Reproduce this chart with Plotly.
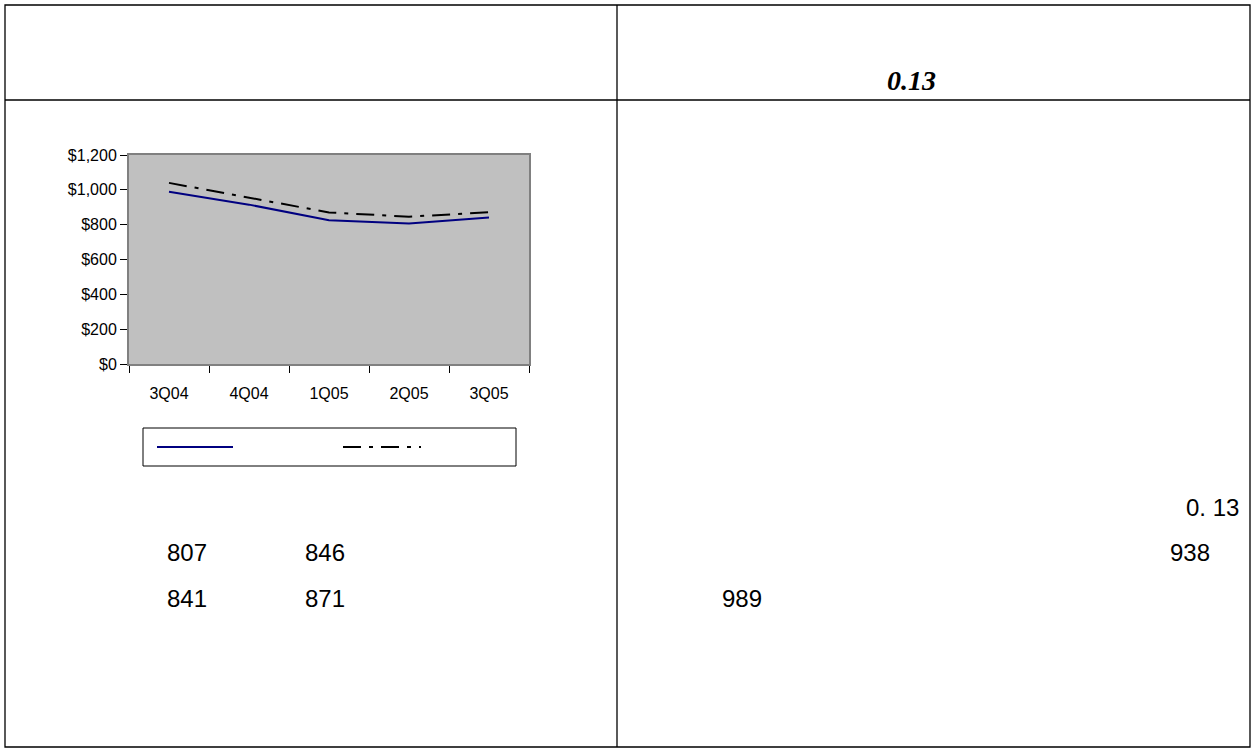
import plotly.graph_objects as go

quarters = ["3Q04", "4Q04", "1Q05", "2Q05", "3Q05"]
series_a = [989, 915, 825, 807, 841]
series_b = [1040, 955, 870, 846, 871]

W, H = 1255, 752

def px(x):
    return x / W

def py(y):
    return 1 - y / H

fig = go.Figure()
fig.add_trace(go.Scatter(x=quarters, y=series_a, mode="lines",
                         line=dict(color="#000080", width=2), showlegend=False))
fig.add_trace(go.Scatter(x=quarters, y=series_b, mode="lines",
                         line=dict(color="black", width=2, dash="18px,8px,4px,8px"),
                         showlegend=False))

line = dict(color="black", width=1.3)
shapes = [
    dict(type="rect", xref="paper", yref="paper", x0=px(5), x1=px(1250), y0=py(747), y1=py(5), line=line),
    dict(type="line", xref="paper", yref="paper", x0=px(617), x1=px(617), y0=py(747), y1=py(5), line=line),
    dict(type="line", xref="paper", yref="paper", x0=px(5), x1=px(1250), y0=py(100), y1=py(100), line=line),
    # legend box
    dict(type="rect", xref="paper", yref="paper", x0=px(143), x1=px(516), y0=py(466), y1=py(428),
         line=dict(color="black", width=1)),
    dict(type="line", xref="paper", yref="paper", x0=px(157), x1=px(233), y0=py(447), y1=py(447),
         line=dict(color="#000080", width=2)),
    dict(type="line", xref="paper", yref="paper", x0=px(343), x1=px(421), y0=py(447), y1=py(447),
         line=dict(color="black", width=2, dash="18px,8px,4px,8px")),
]

texts = [
    ("<b><i>0.13</i></b>", 912, 80, "Liberation Serif", 28),
    ("0. 13", 1212, 507, "Liberation Sans", 24),
    ("938", 1190, 552, "Liberation Sans", 24),
    ("989", 742, 598, "Liberation Sans", 24),
    ("807", 187, 552, "Liberation Sans", 24),
    ("846", 325, 552, "Liberation Sans", 24),
    ("841", 187, 598, "Liberation Sans", 24),
    ("871", 325, 598, "Liberation Sans", 24),
]
annotations = [dict(text=t, x=px(x), y=py(y), xref="paper", yref="paper", showarrow=False,
                    xanchor="center", yanchor="middle",
                    font=dict(family=f, size=s, color="black"))
               for t, x, y, f, s in texts]

fig.update_layout(
    width=W, height=H,
    margin=dict(l=0, r=0, t=0, b=0, pad=0),
    paper_bgcolor="white",
    plot_bgcolor="#C0C0C0",
    font=dict(family="Liberation Sans", size=16, color="black"),
    shapes=shapes,
    annotations=annotations,
    xaxis=dict(domain=[px(129), px(529)], range=[-0.5, 4.5], tickson="boundaries",
               ticks="outside", ticklen=7, tickcolor="black", showline=True, linecolor="#808080",
               linewidth=2, mirror=True, showgrid=False, ticklabelstandoff=14, automargin=False),
    yaxis=dict(domain=[py(364), py(155)], range=[0, 1200], dtick=200, tickprefix="$",
               tickformat=",", ticks="outside", ticklen=7, tickcolor="black", showline=True,
               linecolor="#808080", linewidth=2, mirror=True, showgrid=False, zeroline=False,
               automargin=False),
)

fig.write_html("out.html", config=dict(displayModeBar=False),
               post_script="document.body.style.margin='0';document.body.style.overflow='hidden';")
